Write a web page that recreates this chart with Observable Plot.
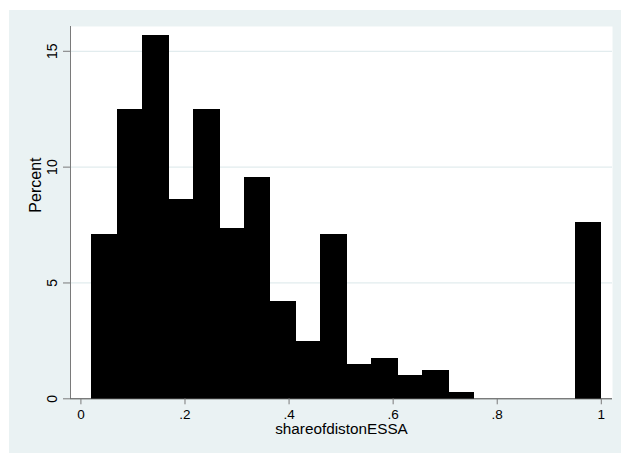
<!DOCTYPE html>
<html><head><meta charset="utf-8">
<script src="https://cdn.jsdelivr.net/npm/d3@7"></script>
<script src="https://cdn.jsdelivr.net/npm/@observablehq/plot@0.6"></script>
<style>
html,body{margin:0;padding:0;background:#fff;}
#chart{position:absolute;left:9px;top:10px;}
</style></head><body><div id="chart"></div>
<script>
// Histogram bins (lower / upper edges) and bar heights in percent
const binLower = [0.022, 0.0709, 0.1198, 0.1687, 0.2176, 0.2665, 0.3154, 0.3643, 0.4132, 0.4621,
                  0.511, 0.5599, 0.6088, 0.6577, 0.7066, 0.7555, 0.8044, 0.8533, 0.9022, 0.9511];
const binUpper = [0.0709, 0.1198, 0.1687, 0.2176, 0.2665, 0.3154, 0.3643, 0.4132, 0.4621, 0.511,
                  0.5599, 0.6088, 0.6577, 0.7066, 0.7555, 0.8044, 0.8533, 0.9022, 0.9511, 1.0];
const percent = [7.09, 12.47, 15.65, 8.56, 12.47, 7.33, 9.54, 4.16, 2.44, 7.09,
                 1.47, 1.71, 0.98, 1.22, 0.25, 0, 0, 0, 0, 7.58];

const xTicks = [0, 0.2, 0.4, 0.6, 0.8, 1];
const xTickLabels = ["0", ".2", ".4", ".6", ".8", "1"];
const yTicks = [0, 5, 10, 15];
const yTickLabels = ["0", "5", "10", "15"];
const xTitle = "shareofdistonESSA";
const yTitle = "Percent";

const bins = percent.map((p, i) => ({lo: binLower[i], hi: binUpper[i], pct: p})).filter(b => b.pct > 0);
const xDomain = [-0.02, 1.0215];
const yDomain = [0, 16.07];
const font = "'Liberation Sans', Arial, Helvetica, sans-serif";

const chart = Plot.plot({
  width: 612, height: 443,
  marginLeft: 61, marginRight: 9, marginTop: 16, marginBottom: 54.7,
  style: {background: "#EAF2F3", fontFamily: font, color: "#000", overflow: "visible"},
  x: {domain: xDomain, axis: null},
  y: {domain: yDomain, axis: null},
  marks: [
    Plot.frame({fill: "white", stroke: "none"}),
    Plot.ruleY(yTicks.filter(t => t > 0), {stroke: "#E2ECEE", strokeWidth: 1.2}),
    Plot.rectY(bins, {x1: "lo", x2: "hi", y1: 0, y2: "pct", fill: "black", stroke: "black", strokeWidth: 1,
                      inset: 0, insetLeft: 0, insetRight: 0, shapeRendering: "crispEdges"}),
    Plot.ruleX([xDomain[0]], {stroke: "#7a7a7a", strokeWidth: 1}),
    Plot.ruleY([0], {stroke: "#444", strokeWidth: 1}),
    Plot.ruleY(yTicks, {x1: xDomain[0], x2: xDomain[0], insetLeft: -7, stroke: "#7a7a7a"}),
    Plot.ruleX(xTicks, {y1: 0, y2: 0, insetBottom: -6, stroke: "#7a7a7a"}),
    Plot.text(yTicks, {x: xDomain[0], y: d => d, text: (d, i) => yTickLabels[i], rotate: -90, dx: -18, fontSize: 14, fill: "#000"}),
    Plot.text(xTicks, {x: d => d, y: 0, text: (d, i) => xTickLabels[i], dy: 15.8, fontSize: 13.5, fill: "#000"}),
    Plot.text([yTitle], {frameAnchor: "left", text: d => d, rotate: -90, dx: -35, fontSize: 16, fill: "#000"}),
    Plot.text([xTitle], {frameAnchor: "bottom", text: d => d, dy: 35.3, fontSize: 15.3, fill: "#000"})
  ]
});
document.getElementById("chart").appendChild(chart);
</script>
</body></html>
